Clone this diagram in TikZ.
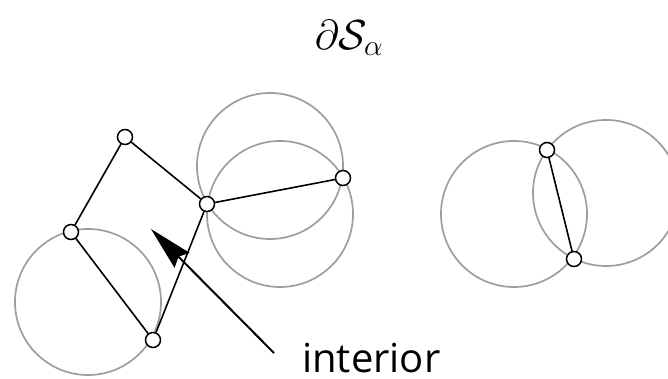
\RequirePackage{fix-cm}
\documentclass[tikz,border=0pt]{standalone}
\usepackage{fontspec}
\newfontfamily\labelfont{Open Sans}
\usetikzlibrary{arrows.meta}
\begin{document}
\begin{tikzpicture}[x=1pt,y=-1pt,
  vert/.style={circle,draw=black,fill=white,line width=1.5pt,minimum size=15pt,inner sep=0pt},
  edge/.style={draw=black,line width=1.6pt},
  halo/.style={draw=black!38,line width=1.7pt},
  pointer/.style={draw=black,line width=2pt,-{Stealth[length=44pt,width=21pt,inset=5pt]}}]
\useasboundingbox (0,0) rectangle (668,378);
% gray circles
\draw[halo] (88,302) circle[radius=73];
\draw[halo] (270,166) circle[radius=73];
\draw[halo] (280,214) circle[radius=73];
\draw[halo] (514,214) circle[radius=73];
\draw[halo] (606,193) circle[radius=73];
% vertices
\node[vert] (A) at (125,137) {};
\node[vert] (B) at (71,232) {};
\node[vert] (C) at (153,340) {};
\node[vert] (D) at (207,204) {};
\node[vert] (E) at (343,178) {};
\node[vert] (F) at (547,150) {};
\node[vert] (G) at (574,259) {};
% edges
\draw[edge] (A) -- (B);
\draw[edge] (B) -- (C);
\draw[edge] (C) -- (D);
\draw[edge] (D) -- (A);
\draw[edge] (D) -- (E);
\draw[edge] (F) -- (G);
% labels
\node (title) at (349,38) {\fontsize{42}{50}\selectfont$\partial\mathcal{S}_\alpha$};
\node[anchor=base west,inner sep=0pt,text depth=0pt] (interior) at (302,372) {\labelfont\fontsize{40}{48}\selectfont interior};
\coordinate (tail) at (274,353);
\coordinate (tip) at (151,229);
\draw[pointer] (tail) -- (tip);
\end{tikzpicture}
\end{document}
